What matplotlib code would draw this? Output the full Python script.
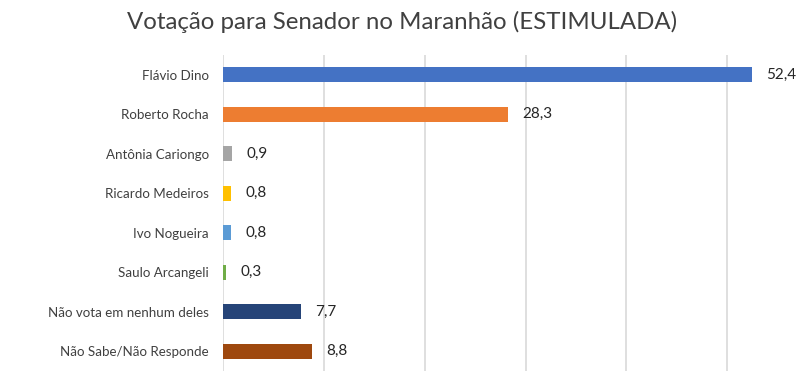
import matplotlib.pyplot as plt

plt.rcParams['font.family'] = ['Lato', 'DejaVu Sans']

nomes = ['Flávio Dino', 'Roberto Rocha', 'Antônia Cariongo', 'Ricardo Medeiros',
         'Ivo Nogueira', 'Saulo Arcangeli', 'Não vota em nenhum deles',
         'Não Sabe/Não Responde']
votos = [52.4, 28.3, 0.9, 0.8, 0.8, 0.3, 7.7, 8.8]
cores = ['#4472C4', '#ED7D31', '#A5A5A5', '#FFC000', '#5B9BD5', '#70AD47',
         '#264478', '#9E480E']

fig = plt.figure(figsize=(8.01, 3.86), dpi=100)
ax = fig.add_axes([223 / 801, 15 / 386, 1 - 223 / 801, 316 / 386])

y = list(range(len(nomes)))
ax.barh(y, votos, height=0.38, color=cores, zorder=3)
ax.set_ylim(len(nomes) - 0.5, -0.5)
ax.set_xlim(0, 57.3)
ax.set_yticks(y)
ax.set_yticklabels(nomes, fontsize=9.6, color='#404040')
ax.tick_params(axis='y', length=0, pad=10)
ax.set_xticks([0, 10, 20, 30, 40, 50])
ax.tick_params(axis='x', length=0, labelbottom=False)
ax.grid(axis='x', color='#D9D9D9', linewidth=1.2, zorder=0)
for s in ax.spines.values():
    s.set_visible(False)

# rotulos de dados
for i, v in enumerate(votos):
    ax.text(v + 1.4, i, f'{v:.1f}'.replace('.', ','), va='center', ha='left',
            fontsize=11, color='#262626')

fig.text(402 / 801, 1 - 22 / 386, 'Votação para Senador no Maranhão (ESTIMULADA)',
         ha='center', va='center', fontsize=17.3, color='#404040')

fig.savefig('out.png', dpi=100)
